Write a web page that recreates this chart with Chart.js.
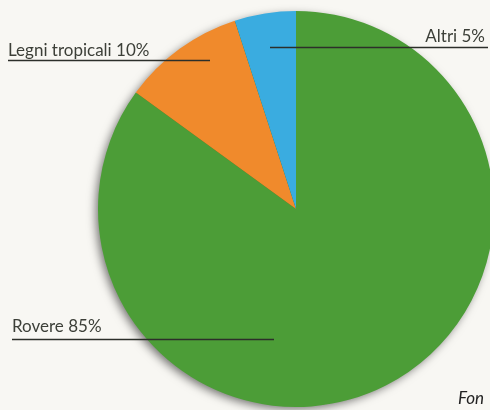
<!DOCTYPE html>
<html>
<head>
<meta charset="utf-8">
<script src="https://cdn.jsdelivr.net/npm/chart.js@4"></script>
<style>
  html, body { margin: 0; padding: 0; background: #f8f7f3; overflow: hidden; }
  #wrap { position: relative; width: 500px; height: 410px; }
</style>
</head>
<body>
<div id="wrap"><canvas id="c" width="500" height="410"></canvas></div>
<script>
const categories = ["Rovere", "Legni tropicali", "Altri"];
const percentages = [85, 10, 5];
const colors = ["#4c9d37", "#f08a2c", "#3aace0"];
const labelTexts = ["Rovere 85%", "Legni tropicali 10%", "Altri 5%"];
const sourceText = "Fon";

const shadowPlugin = {
  id: 'shadow',
  beforeDatasetsDraw(chart) {
    const arc = chart.getDatasetMeta(0).data[0];
    if (!arc) return;
    const ctx = chart.ctx;
    ctx.save();
    ctx.shadowColor = 'rgba(0,0,0,0.55)';
    ctx.shadowBlur = 10;
    ctx.shadowOffsetX = -3;
    ctx.shadowOffsetY = 3;
    ctx.beginPath();
    ctx.arc(arc.x, arc.y, arc.outerRadius - 1, 0, Math.PI * 2);
    ctx.fillStyle = '#2f6e22';
    ctx.fill();
    ctx.restore();
  }
};

const labelPlugin = {
  id: 'leaderLabels',
  afterDatasetsDraw(chart) {
    const ctx = chart.ctx;
    const meta = chart.getDatasetMeta(0);
    const a = meta.data[0];
    const cx = a.x;
    ctx.save();
    ctx.font = '17px Lato, sans-serif';
    ctx.fillStyle = '#3c3f38';
    ctx.strokeStyle = '#2c2f2a';
    ctx.lineWidth = 1.4;
    ctx.textBaseline = 'alphabetic';
    // [text x, baseline y, line x1, line x2, line y, align]
    const layout = [
      [12, 332, 12, cx - 22, 339.5, 'left'],
      [8, 56, 8, cx - 86, 60.5, 'left'],
      [485, 42, cx - 26, 488, 47.5, 'right']
    ];
    layout.forEach((L, i) => {
      ctx.textAlign = L[5];
      ctx.fillText(labelTexts[i], L[0], L[1]);
      ctx.beginPath();
      ctx.moveTo(L[2], L[4]);
      ctx.lineTo(L[3], L[4]);
      ctx.stroke();
    });
    ctx.font = 'italic 17px Lato, sans-serif';
    ctx.textAlign = 'left';
    ctx.fillStyle = '#222';
    ctx.fillText(sourceText, 458, 404);
    ctx.restore();
  }
};

new Chart(document.getElementById('c'), {
  type: 'pie',
  data: {
    labels: categories,
    datasets: [{
      data: percentages,
      backgroundColor: colors,
      borderWidth: 0
    }]
  },
  options: {
    responsive: false,
    animation: false,
    layout: { padding: { left: 98, right: 6, top: 11, bottom: 3 } },
    plugins: { legend: { display: false }, tooltip: { enabled: false } }
  },
  plugins: [shadowPlugin, labelPlugin]
});
</script>
</body>
</html>
